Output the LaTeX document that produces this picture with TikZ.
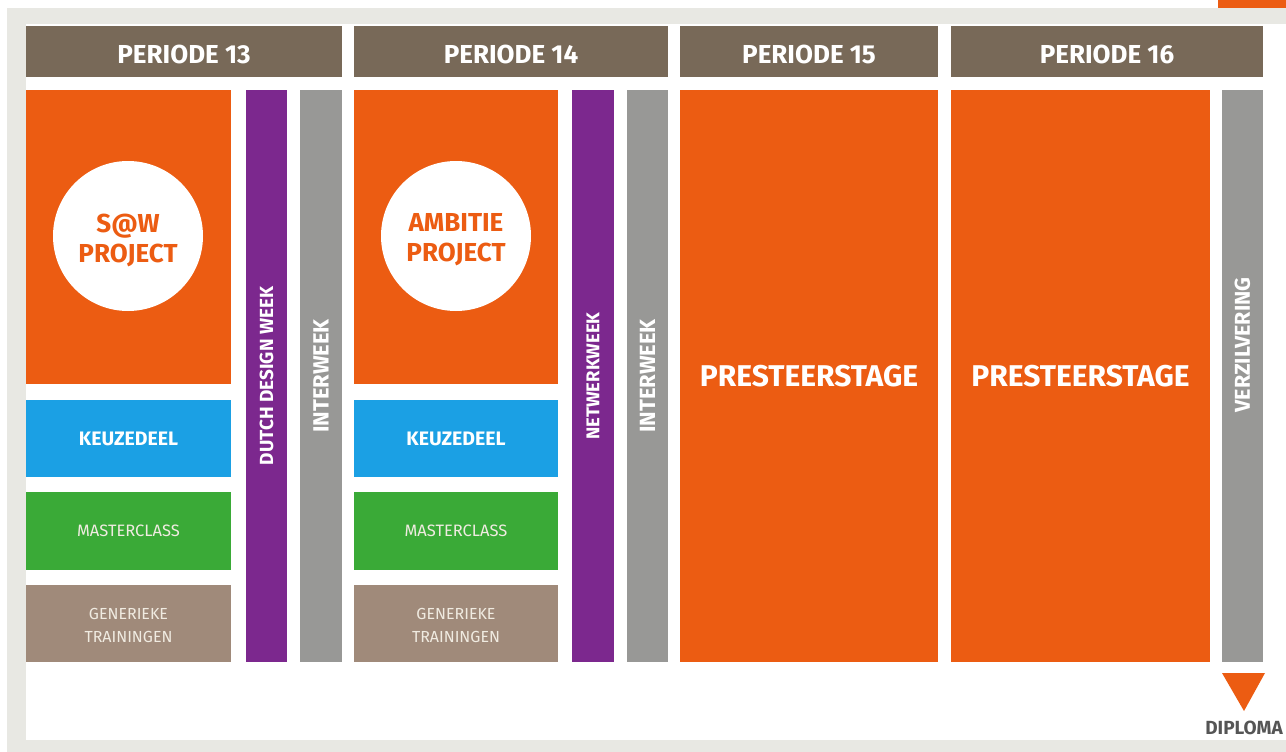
\documentclass[tikz,border=0pt]{standalone}
\usepackage{fontspec}
\setmainfont{Fira Sans}
\definecolor{frame}{RGB}{232,232,227}
\definecolor{hdr}{RGB}{120,105,88}
\definecolor{org}{RGB}{236,92,18}
\definecolor{blu}{RGB}{27,160,228}
\definecolor{grn}{RGB}{58,170,55}
\definecolor{brn}{RGB}{160,138,122}
\definecolor{pur}{RGB}{124,40,142}
\definecolor{gry}{RGB}{152,152,150}
\definecolor{dgry}{RGB}{85,85,85}
\definecolor{lt}{RGB}{240,235,225}
\newcommand{\fsz}[1]{\fontsize{#1}{#1}\selectfont}
\tikzset{
  blk/.style={anchor=north west, inner sep=0pt, outer sep=0pt, draw=none},
  hdrbox/.style={blk, fill=hdr, minimum height=51pt},
  txt/.style={inner sep=0pt, text=white, font=\bfseries},
  vtxt/.style={txt, rotate=90},
  smtxt/.style={inner sep=0pt, text=lt, align=center, font=\fontsize{16.5}{23}\selectfont},
}
\begin{document}
\begin{tikzpicture}[x=1pt,y=-1pt]
\useasboundingbox (0,0) rectangle (1286,752);
% frame
\fill[white] (0,0) rectangle (1286,752);
\fill[frame] (7,8) rectangle (1286,752);
\fill[white] (26,24) rectangle (1286,740);
\fill[org] (1218,0) rectangle (1286,8);
% headers
\node[hdrbox, minimum width=316pt] (h13) at (26,26) {};
\node[hdrbox, minimum width=314pt] (h14) at (354,26) {};
\node[hdrbox, minimum width=258pt] (h15) at (680,26) {};
\node[hdrbox, minimum width=312pt] (h16) at (951,26) {};
\foreach \h/\t in {h13/PERIODE 13, h14/PERIODE 14, h15/PERIODE 15, h16/PERIODE 16}
  \node[txt, font=\bfseries\fsz{26}] at ([yshift=-2.5pt]\h.center) {\t};
% period 13
\node[blk, fill=org, minimum width=205pt, minimum height=294pt] (p13) at (26,90) {};
\node[circle, fill=white, minimum size=150pt, inner sep=0pt] (c13) at (128,236) {};
\node[txt, text=org, align=center, font=\bfseries\fontsize{26}{30}\selectfont] at ([yshift=-4pt]c13.center) {S@W\\PROJECT};
\node[blk, fill=blu, minimum width=205pt, minimum height=77pt] (k13) at (26,400) {};
\node[txt, font=\bfseries\fsz{19.5}] at (k13.center) {KEUZEDEEL};
\node[blk, fill=grn, minimum width=205pt, minimum height=78pt] (m13) at (26,492) {};
\node[smtxt] at (m13.center) {MASTERCLASS};
\node[blk, fill=brn, minimum width=205pt, minimum height=77pt] (g13) at (26,585) {};
\node[smtxt, font=\fontsize{16}{23}\selectfont] at ([yshift=-2pt]g13.center) {GENERIEKE\\TRAININGEN};
\node[blk, fill=pur, minimum width=41pt, minimum height=572pt] (d13) at (246,90) {};
\node[vtxt, font=\bfseries\fsz{19}] at (d13.center) {DUTCH DESIGN WEEK};
\node[blk, fill=gry, minimum width=42pt, minimum height=572pt] (i13) at (300,90) {};
\node[vtxt, font=\bfseries\fsz{22}] at (i13.center) {INTERWEEK};
% period 14
\node[blk, fill=org, minimum width=204pt, minimum height=294pt] (p14) at (354,90) {};
\node[circle, fill=white, minimum size=150pt, inner sep=0pt] (c14) at (456,236) {};
\node[txt, text=org, align=center, font=\bfseries\fontsize{26}{30}\selectfont] at ([yshift=-4pt]c14.center) {AMBITIE\\PROJECT};
\node[blk, fill=blu, minimum width=204pt, minimum height=77pt] (k14) at (354,400) {};
\node[txt, font=\bfseries\fsz{19.5}] at (k14.center) {KEUZEDEEL};
\node[blk, fill=grn, minimum width=204pt, minimum height=78pt] (m14) at (354,492) {};
\node[smtxt] at (m14.center) {MASTERCLASS};
\node[blk, fill=brn, minimum width=204pt, minimum height=77pt] (g14) at (354,585) {};
\node[smtxt, font=\fontsize{16}{23}\selectfont] at ([yshift=-2pt]g14.center) {GENERIEKE\\TRAININGEN};
\node[blk, fill=pur, minimum width=42pt, minimum height=572pt] (n14) at (572,90) {};
\node[vtxt, font=\bfseries\fsz{18.5}] at (n14.center) {NETWERKWEEK};
\node[blk, fill=gry, minimum width=41pt, minimum height=572pt] (i14) at (627,90) {};
\node[vtxt, font=\bfseries\fsz{22}] at (i14.center) {INTERWEEK};
% period 15
\node[blk, fill=org, minimum width=258pt, minimum height=572pt] (p15) at (680,90) {};
\node[txt, font=\bfseries\fsz{30}] at (p15.center) {PRESTEERSTAGE};
% period 16
\node[blk, fill=org, minimum width=259pt, minimum height=572pt] (p16) at (951,90) {};
\node[txt, font=\bfseries\fsz{30}] at (p16.center) {PRESTEERSTAGE};
\node[blk, fill=gry, minimum width=41pt, minimum height=572pt] (v16) at (1222,90) {};
\node[vtxt, font=\bfseries\fsz{21.5}] at ([yshift=31pt]v16.center) {VERZILVERING};
% diploma
\coordinate (t1) at (1222,673);
\coordinate (t2) at (1265,673);
\coordinate (t3) at (1244,711);
\fill[org] (t1) -- (t2) -- (t3) -- cycle;
\node[txt, text=dgry, font=\bfseries\fsz{19}] (dip) at (1244,728) {DIPLOMA};
\end{tikzpicture}
\end{document}
